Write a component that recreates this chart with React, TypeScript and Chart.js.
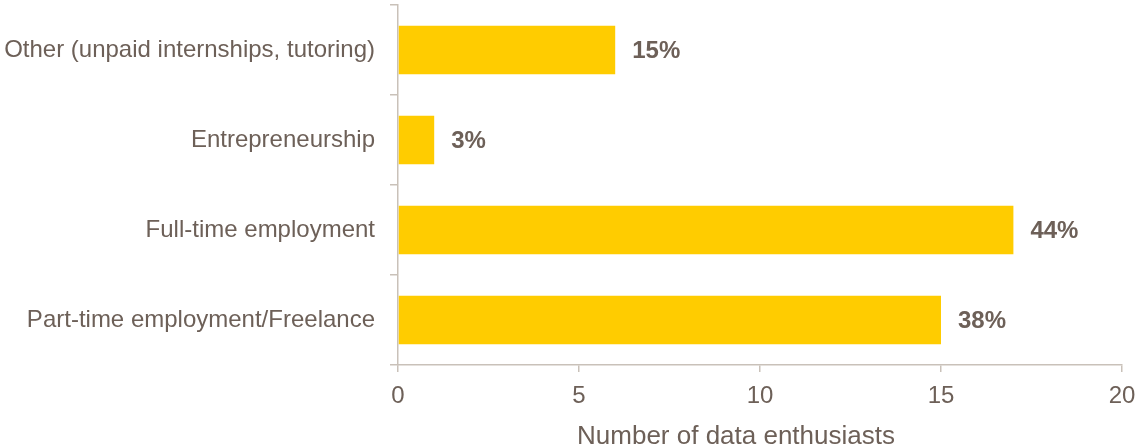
import React, { useEffect, useRef } from "react";
import { Chart, registerables } from "chart.js";

Chart.register(...registerables);

const categories = [
  "Other (unpaid internships, tutoring)",
  "Entrepreneurship",
  "Full-time employment",
  "Part-time employment/Freelance",
];
const counts = [6, 1, 17, 15];
const percentLabels = ["15%", "3%", "44%", "38%"];
const xTicks = [0, 5, 10, 15, 20];
const axisTitle = "Number of data enthusiasts";

const FONT = "'Liberation Sans', Arial, Helvetica, sans-serif";
const TEXT = "#6d6058";
const AXIS = "#c9c1b9";
const BAR = "#ffcc00";

export default function App() {
  const ref = useRef<HTMLCanvasElement | null>(null);

  useEffect(() => {
    document.body.style.margin = "0";
    if (!ref.current) return;

    const valueLabels = {
      id: "valueLabels",
      afterDatasetsDraw(chart: any) {
        const ctx = chart.ctx;
        const meta = chart.getDatasetMeta(0);
        ctx.save();
        ctx.font = `bold 24px ${FONT}`;
        ctx.fillStyle = TEXT;
        ctx.textAlign = "left";
        ctx.textBaseline = "middle";
        meta.data.forEach((el: any, i: number) => {
          ctx.fillText(percentLabels[i], el.x + 17, el.y + 1);
        });
        ctx.restore();
      },
    };

    const bottomTitle = {
      id: "bottomTitle",
      afterDraw(chart: any) {
        const ctx = chart.ctx;
        const a = chart.chartArea;
        ctx.save();
        ctx.font = `26px ${FONT}`;
        ctx.fillStyle = TEXT;
        ctx.textAlign = "center";
        ctx.textBaseline = "alphabetic";
        ctx.fillText(axisTitle, (a.left + a.right) / 2 - 24, 444);
        ctx.restore();
      },
    };

    const chart = new Chart(ref.current, {
      type: "bar",
      data: {
        labels: categories,
        datasets: [
          {
            data: counts,
            backgroundColor: BAR,
            borderWidth: 0,
            barPercentage: 0.54,
            categoryPercentage: 1,
          },
        ],
      },
      options: {
        indexAxis: "y",
        animation: false,
        responsive: true,
        maintainAspectRatio: false,
        layout: { padding: { top: 5, right: 14, left: 0, bottom: 0 } },
        plugins: {
          legend: { display: false },
          tooltip: { enabled: false },
          title: { display: false },
        },
        scales: {
          x: {
            min: 0,
            max: 20,
            afterBuildTicks(scale: any) {
              scale.ticks = xTicks.map((v) => ({ value: v }));
            },
            afterFit(scale: any) {
              scale.height = 82;
              scale.paddingLeft = 0;
              scale.paddingRight = 0;
            },
            grid: {
              drawOnChartArea: false,
              drawTicks: true,
              tickLength: 7,
              tickColor: AXIS,
              lineWidth: 1.5,
            },
            border: { display: true, color: AXIS, width: 1.5 },
            ticks: {
              color: TEXT,
              font: { family: FONT, size: 24 },
              padding: 10,
              maxRotation: 0,
            },
          },
          y: {
            afterFit(scale: any) {
              scale.width = 398;
              scale.paddingTop = 0;
              scale.paddingBottom = 0;
            },
            grid: {
              drawOnChartArea: false,
              drawTicks: true,
              tickLength: 8,
              tickColor: AXIS,
              lineWidth: 1.5,
              offset: true,
            },
            border: { display: true, color: AXIS, width: 1.5 },
            ticks: {
              color: TEXT,
              font: { family: FONT, size: 24 },
              padding: 15,
            },
          },
        },
      },
      plugins: [valueLabels, bottomTitle],
    });

    return () => chart.destroy();
  }, []);

  return (
    <div style={{ width: 1136, height: 447, position: "relative" }}>
      <canvas ref={ref} />
    </div>
  );
}
